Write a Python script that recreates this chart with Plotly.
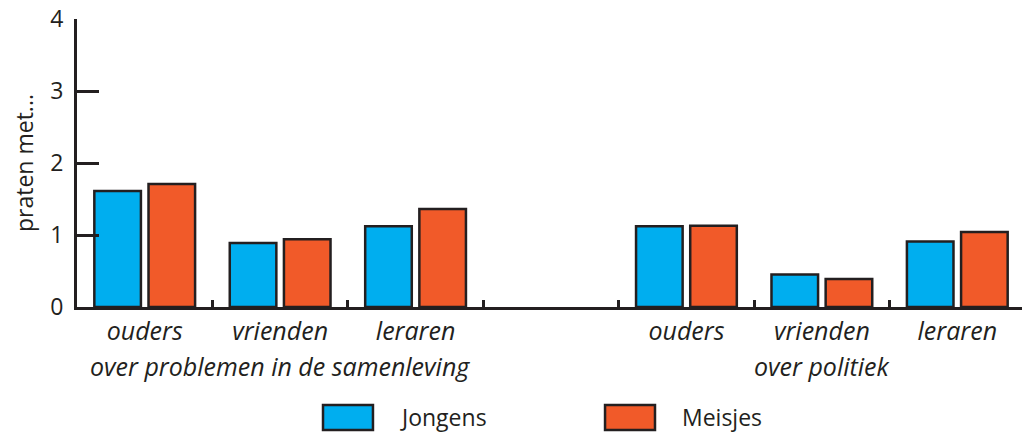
import plotly.graph_objects as go

# Data
positions = [0, 1, 2, 4, 5, 6]
categories = ['ouders', 'vrienden', 'leraren', 'ouders', 'vrienden', 'leraren']
group_labels = ['over problemen in de samenleving', 'over politiek']
group_centers = [1, 5]
jongens = [1.61, 0.89, 1.12, 1.12, 0.45, 0.91]
meisjes = [1.71, 0.94, 1.36, 1.13, 0.39, 1.04]
y_ticks = [0, 1, 2, 3, 4]

BLUE = '#00aeef'
ORANGE = '#f15a29'
INK = '#231f20'
FONT = 'Open Sans, sans-serif'
FS = 23      # upright text
FS_IT = 25   # italic labels (Open Sans italic runs narrow)

fig = go.Figure()
fig.add_trace(go.Bar(name='Jongens', x=positions, y=jongens,
                     marker=dict(color=BLUE, line=dict(color=INK, width=2.5))))
fig.add_trace(go.Bar(name='Meisjes', x=positions, y=meisjes,
                     marker=dict(color=ORANGE, line=dict(color=INK, width=2.5))))

# group labels under the category labels
for label, cx in zip(group_labels, group_centers):
    fig.add_annotation(x=cx, xref='x', y=-0.205, yref='paper', text=label,
                       showarrow=False, yanchor='middle',
                       font=dict(family=FONT, size=FS_IT, color=INK, style='italic'))

# legend drawn by hand so the swatches are big
legend_items = [('Jongens', BLUE, 0.2595), ('Meisjes', ORANGE, 0.557)]
for name, color, x0 in legend_items:
    fig.add_shape(type='rect', xref='paper', yref='paper',
                  x0=x0, x1=x0 + 0.0527, y0=-0.427, y1=-0.340,
                  fillcolor=color, line=dict(color=INK, width=2.5))
    fig.add_annotation(x=x0 + 0.079, xref='paper', y=-0.383, yref='paper',
                       text=name, showarrow=False, xanchor='left', yanchor='middle',
                       font=dict(family=FONT, size=FS, color=INK))

# page body adds an 8px margin, so the figure is drawn 8px smaller
fig.update_layout(
    width=1022, height=424,
    margin=dict(l=69, r=5, t=11, b=125),
    paper_bgcolor='white', plot_bgcolor='white',
    barmode='group', bargap=0.2, bargroupgap=0.14,
    showlegend=False,
    font=dict(family=FONT, size=FS, color=INK),
    xaxis=dict(
        range=[-0.5, 6.5], tickvals=positions, ticktext=categories,
        ticks='', showgrid=False, zeroline=False, automargin=False,
        showline=True, linecolor=INK, linewidth=3,
        tickfont=dict(family=FONT, size=FS_IT, color=INK, style='italic'),
        ticklabelstandoff=0, ticklabeloverflow='allow',
        minor=dict(tickvals=[0.5, 1.5, 2.5, 3.5, 4.5, 5.5, 6.5],
                   ticks='inside', ticklen=7, tickwidth=3, tickcolor=INK),
    ),
    yaxis=dict(
        range=[0, 4], tickvals=y_ticks, ticks='inside', ticklen=22,
        tickwidth=3, tickcolor=INK, showgrid=False, zeroline=False,
        automargin=False, ticklabeloverflow='allow',
        showline=True, linecolor=INK, linewidth=3,
        tickfont=dict(family=FONT, size=FS, color=INK),
        ticklabelstandoff=6,
        title=dict(text='praten met...', standoff=16,
                   font=dict(family=FONT, size=FS, color=INK)),
    ),
)

fig.write_html('out.html')
